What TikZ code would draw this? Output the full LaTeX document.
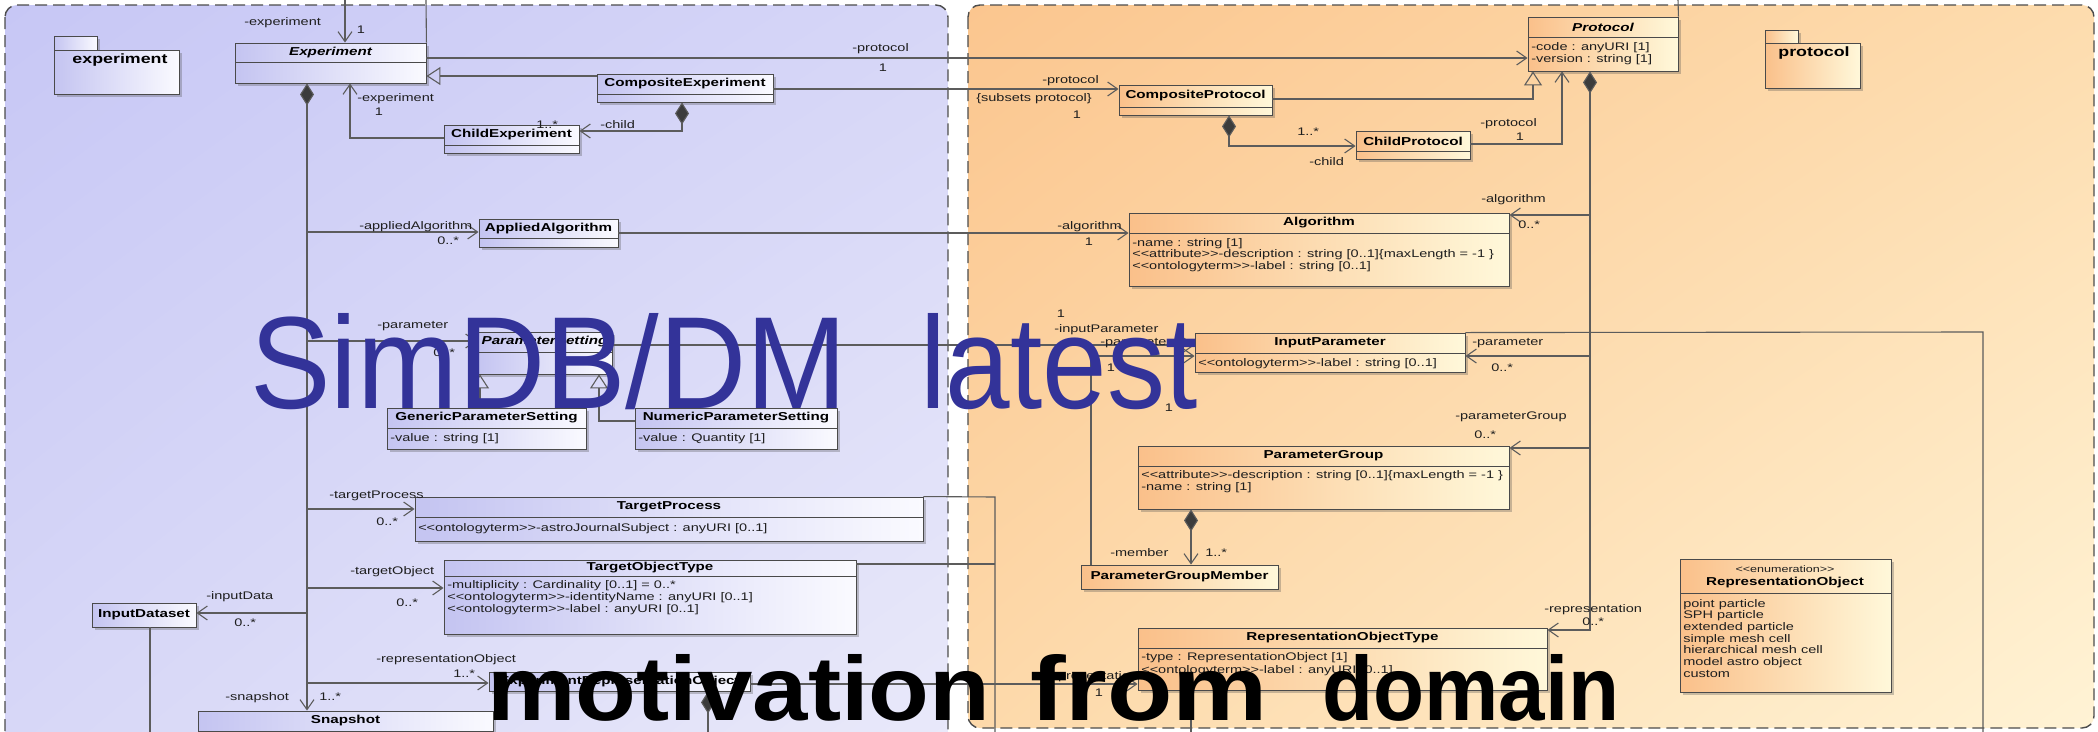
\documentclass[tikz,border=0pt]{standalone}
\usepackage{fontspec}
\usepackage{graphicx}
\setmainfont{Liberation Sans}
\newfontfamily\umlfont{Liberation Sans}
\newfontfamily\bigfont{Liberation Sans}
\usetikzlibrary{arrows.meta,shadows,shadings}

\definecolor{lavUL}{HTML}{C7C7F5}
\definecolor{lavUR}{HTML}{D6D6F7}
\definecolor{lavLL}{HTML}{D8D8F7}
\definecolor{lavLR}{HTML}{EAEAFA}
\definecolor{orUL}{HTML}{FBC68F}
\definecolor{orUR}{HTML}{FDDCAE}
\definecolor{orLL}{HTML}{FDD9AA}
\definecolor{orLR}{HTML}{FFF3D5}
\definecolor{lavbox}{HTML}{C4C4F1}
\definecolor{lavboxR}{HTML}{FAFAFF}
\definecolor{orbox}{HTML}{FAC08A}
\definecolor{orboxR}{HTML}{FFF8DA}
\definecolor{lineg}{HTML}{5C5C5C}
\definecolor{edgeg}{HTML}{4A4A4A}
\definecolor{diag}{HTML}{3C3C3C}
\definecolor{titleblue}{HTML}{333399}
\definecolor{txt}{HTML}{1E1E1E}

\tikzset{
  lab/.style={font=\umlfont\fontsize{11}{12}\selectfont, text=txt, xscale=1.32, inner sep=0pt},
  cname/.style={font=\umlfont\bfseries\fontsize{11.5}{12}\selectfont, text=black, xscale=1.32, inner sep=0pt},
  cnamei/.style={font=\umlfont\bfseries\itshape\fontsize{11.5}{12}\selectfont, text=black, xscale=1.32, inner sep=0pt},
  stereo/.style={font=\umlfont\fontsize{9.5}{11}\selectfont, text=txt, xscale=1.32, inner sep=0pt},
  pkgname/.style={font=\umlfont\bfseries\fontsize{13.5}{14}\selectfont, text=black, xscale=1.32, inner sep=0pt},
  clsbox/.style={rectangle, draw=edgeg, line width=0.9pt, inner sep=0pt,
    drop shadow={shadow xshift=3pt, shadow yshift=-3pt, opacity=0.3, fill=black!70}},
  lavcls/.style={clsbox, left color=lavbox, right color=lavboxR},
  orcls/.style={clsbox, left color=orbox, right color=orboxR},
  divline/.style={draw=edgeg, line width=0.9pt},
  panelborder/.style={draw=black!70, line width=1.4pt, dash pattern=on 12pt off 6pt, rounded corners=12pt},
  conn/.style={draw=lineg, line width=1.1pt},
  navi/.style={conn, -{Straight Barb[length=10pt,width=14pt]}},
  gen/.style={conn, -{Triangle[open,length=14pt,width=18pt]}},
  compo/.style={conn, {Diamond[length=22pt,width=14pt,fill=diag]}-{Straight Barb[length=10pt,width=14pt]}},
  compd/.style={conn, {Diamond[length=22pt,width=14pt,fill=diag]}-},
}

% class box: name, style, x1, y1, x2, y2, divider y, title style, title
\newcommand\umlcls[9]{%
  \node[#2, minimum width={#5-#3}, minimum height={#6-#4}] (#1) at ({(#3+#5)/2},{(#4+#6)/2}) {};
  \draw[divline] (#3,#7) -- (#5,#7);
  \node[#8] (#1-t) at ({(#3+#5)/2},{(#4+#7)/2}) {#9};
}
% one attribute line: name, x, baseline y, text
\newcommand\umlattr[4]{\node[lab, anchor=base west] (#1) at (#2,#3) {#4};}

\begin{document}
\begin{tikzpicture}[x=1pt,y=-1pt]
\useasboundingbox (0,0) rectangle (2098,731);
\clip (0,0) rectangle (2098,731);
\fill[white] (0,0) rectangle (2098,731);

% package panels
\shade[rounded corners=12pt, upper left=lavUL, upper right=lavUR, lower left=lavLL, lower right=lavLR]
  (5,5) rectangle (948,780);
\draw[panelborder] (5,5) rectangle (948,780);
\shade[rounded corners=12pt, upper left=orUL, upper right=orUR, lower left=orLL, lower right=orLR]
  (968,5) rectangle (2094,728);
\draw[panelborder] (968,5) rectangle (2094,728);

% package icons
\node[lavcls, minimum width=43, minimum height=14] (expkgtab) at (75.5,43) {};
\node[lavcls, minimum width=125, minimum height=44] (expkg) at (116.5,72) {};
\node[pkgname] (expkg-t) at (120,60) {experiment};
\node[orcls, minimum width=33, minimum height=13] (prpkgtab) at (1781.5,36.5) {};
\node[orcls, minimum width=95, minimum height=45] (prpkg) at (1812.5,65.5) {};
\node[pkgname] (prpkg-t) at (1814,53) {protocol};

% experiment classes
\umlcls{exp}{lavcls}{235}{43}{426}{83}{62}{cnamei}{Experiment}
\umlcls{cexp}{lavcls}{597}{74}{773}{102}{94}{cname}{CompositeExperiment}
\umlcls{chexp}{lavcls}{444}{125}{579}{153}{145}{cname}{ChildExperiment}
\umlcls{aalg}{lavcls}{479}{219}{618}{247}{238}{cname}{AppliedAlgorithm}
\umlcls{pset}{lavcls}{477}{332}{612}{374}{352}{cnamei}{ParameterSetting}
\umlcls{gps}{lavcls}{387}{408}{586}{449}{428}{cname}{GenericParameterSetting}
\umlattr{gps-a}{390}{441}{-value : string [1]}
\umlcls{nps}{lavcls}{635}{408}{837}{449}{428}{cname}{NumericParameterSetting}
\umlattr{nps-a}{638}{441}{-value : Quantity [1]}
\umlcls{tproc}{lavcls}{415}{497}{923}{541}{517}{cname}{TargetProcess}
\umlattr{tproc-a}{418}{531}{<<ontologyterm>>-astroJournalSubject : anyURI [0..1]}
\umlcls{tobj}{lavcls}{444}{560}{856}{634}{576}{cname}{TargetObjectType}
\umlattr{tobj-a1}{447}{588}{-multiplicity : Cardinality [0..1] = 0..*}
\umlattr{tobj-a2}{447}{600}{<<ontologyterm>>-identityName : anyURI [0..1]}
\umlattr{tobj-a3}{447}{612}{<<ontologyterm>>-label : anyURI [0..1]}
\umlcls{inds}{lavcls}{92}{603}{196}{627}{627}{cname}{InputDataset}
\umlcls{erep}{lavcls}{489}{672}{750}{691}{691}{cname}{ExperimentRepresentationObject}
\umlcls{snap}{lavcls}{198}{711}{493}{770}{731}{cname}{Snapshot}

% protocol classes
\umlcls{prot}{orcls}{1528}{17}{1678}{71}{37}{cnamei}{Protocol}
\umlattr{prot-a1}{1531}{50}{-code : anyURI [1]}
\umlattr{prot-a2}{1531}{62}{-version : string [1]}
\umlcls{cprot}{orcls}{1119}{85}{1272}{115}{107}{cname}{CompositeProtocol}
\umlcls{chprot}{orcls}{1356}{131}{1470}{159}{151}{cname}{ChildProtocol}
\umlcls{alg}{orcls}{1129}{213}{1509}{286}{233}{cname}{Algorithm}
\umlattr{alg-a1}{1132}{246}{-name : string [1]}
\umlattr{alg-a2}{1132}{257.5}{<<attribute>>-description : string [0..1]\{maxLength = -1 \}}
\umlattr{alg-a3}{1132}{269}{<<ontologyterm>>-label : string [0..1]}
\umlcls{ip}{orcls}{1195}{333}{1465}{372}{353}{cname}{InputParameter}
\umlattr{ip-a}{1198}{366}{<<ontologyterm>>-label : string [0..1]}
\umlcls{pg}{orcls}{1138}{446}{1509}{509}{466}{cname}{ParameterGroup}
\umlattr{pg-a1}{1141}{478}{<<attribute>>-description : string [0..1]\{maxLength = -1 \}}
\umlattr{pg-a2}{1141}{490.5}{-name : string [1]}
\umlcls{pgm}{orcls}{1081}{565}{1278}{589}{589}{cname}{ParameterGroupMember}
\umlcls{rot}{orcls}{1138}{628}{1547}{690}{648}{cname}{RepresentationObjectType}
\umlattr{rot-a1}{1141}{660}{-type : RepresentationObject [1]}
\umlattr{rot-a2}{1141}{673}{<<ontologyterm>>-label : anyURI [0..1]}
\umlcls{robj}{orcls}{1680}{559}{1891}{692}{593}{cname}{}
\node[stereo] (robj-s) at (1785,569) {<<enumeration>>};
\node[cname] (robj-n) at (1785,583) {RepresentationObject};
\umlattr{robj-l1}{1683}{607}{point particle}
\umlattr{robj-l2}{1683}{618.7}{SPH particle}
\umlattr{robj-l3}{1683}{630.4}{extended particle}
\umlattr{robj-l4}{1683}{642}{simple mesh cell}
\umlattr{robj-l5}{1683}{653.8}{hierarchical mesh cell}
\umlattr{robj-l6}{1683}{665.5}{model astro object}
\umlattr{robj-l7}{1683}{677}{custom}

% ---- connectors: experiment package
\coordinate (topA) at (345,0);
\coordinate (topB) at (426,0);
\draw[navi] (topA) -- (topA |- exp.north);
\draw[conn] (exp.north east) -- (topB);
\coordinate (jEP) at (0,58);
\draw[navi] (exp.east |- jEP) -- (prot.west |- jEP);
\coordinate (jGE) at (0,76);
\draw[gen] (cexp.west |- jGE) -- (exp.east |- jGE);
\coordinate (jCC) at (0,89);
\draw[navi] (cexp.east |- jCC) -- (cprot.west |- jCC);
\coordinate (dCE) at (682,131);
\draw[compo] (cexp.south -| dCE) -- (dCE) -- (chexp.east |- dCE);
\coordinate (kCE) at (350,138);
\draw[navi] (chexp.west |- kCE) -- (kCE) -- (kCE |- exp.south);

\coordinate (tr) at (307,0);
\draw[compo] (exp.south -| tr) -- (tr |- snap.north);
\coordinate (b1) at (307,232); \draw[navi] (b1) -- (b1 -| aalg.west);
\coordinate (b2) at (307,341); \draw[navi] (b2) -- (b2 -| pset.west);
\coordinate (b3) at (307,509); \draw[navi] (b3) -- (b3 -| tproc.west);
\coordinate (b4) at (307,588); \draw[navi] (b4) -- (b4 -| tobj.west);
\coordinate (b5) at (307,613); \draw[navi] (b5) -- (b5 -| inds.east);
\coordinate (b6) at (307,683); \draw[navi] (b6) -- (b6 -| erep.west);

\draw[navi] (aalg.east) -- (aalg.east -| alg.west);
\coordinate (gG) at (480,0);
\draw[gen] (gps.north -| gG) -- (pset.south -| gG);
\coordinate (nB) at (599,421);
\draw[gen] (nps.west |- nB) -- (nB) -- (nB |- pset.south);
\coordinate (jPI) at (0,345);
\draw[navi] (pset.east |- jPI) -- (ip.west |- jPI);
\coordinate (kPG) at (1091,356);
\draw[navi] (pgm.north -| kPG) -- (kPG) -- (kPG -| ip.west);

\coordinate (vv) at (995,497);
\coordinate (vvb) at (995,740);
\draw[conn] (tproc.north east) -- (vv) -- (vvb);
\coordinate (vo) at (995,564);
\draw[conn] (tobj.east |- vo) -- (vo);
\coordinate (jER) at (0,684);
\draw[navi] (erep.east |- jER) -- (rot.west |- jER);
\coordinate (eb) at (708,740);
\draw[compd] (erep.south -| eb) -- (eb);
\coordinate (idb) at (150,740);
\draw[conn] (inds.south -| idb) -- (idb);

% ---- connectors: protocol package
\coordinate (pt) at (1590,630);
\draw[compo] (prot.south -| pt) -- (pt) -- (pt -| rot.east);
\coordinate (c1) at (1590,215); \draw[navi] (c1) -- (c1 -| alg.east);
\coordinate (c2) at (1590,356); \draw[navi] (c2) -- (c2 -| ip.east);
\coordinate (c3) at (1590,448); \draw[navi] (c3) -- (c3 -| pg.east);
\coordinate (gP) at (1533,99);
\draw[gen] (cprot.east |- gP) -- (gP) -- (gP |- prot.south);
\coordinate (kCP) at (1562,144);
\draw[navi] (chprot.east |- kCP) -- (kCP) -- (kCP |- prot.south);
\coordinate (dCP) at (1229,146);
\draw[compo] (cprot.south -| dCP) -- (dCP) -- (dCP -| chprot.west);
\coordinate (topC) at (1678,0);
\draw[conn] (prot.north east) -- (topC);
\coordinate (mG) at (1191,0);
\draw[compo] (pg.south -| mG) -- (pgm.north -| mG);
\coordinate (rr) at (1983,332);
\coordinate (rrb) at (1983,740);
\draw[conn] (ip.north east) -- (rr) -- (rrb);
\coordinate (rtb) at (1191,740);
\draw[conn] (rot.south -| rtb) -- (rtb);

% ---- role names and multiplicities
\node[lab, anchor=west] (lb1) at (244,23) {-experiment};
\node[lab] (lb2) at (361,30) {1};
\node[lab, anchor=west] (lb3) at (852,49) {-protocol};
\node[lab] (lb4) at (883,68) {1};
\node[lab, anchor=west] (lb5) at (1042,81) {-protocol};
\node[lab, anchor=west] (lb6) at (976,99) {\{subsets protocol\}};
\node[lab] (lb7) at (1077,115) {1};
\node[lab, anchor=west] (lb8) at (600,125) {-child};
\node[lab, anchor=west] (lb9) at (536,125) {1..*};
\node[lab, anchor=west] (lb10) at (357,99) {-experiment};
\node[lab] (lb11) at (379,112) {1};
\node[lab, anchor=west] (lb12) at (225,698) {-snapshot};
\node[lab, anchor=west] (lb13) at (319,697) {1..*};
\node[lab, anchor=west] (lb14) at (359,227) {-appliedAlgorithm};
\node[lab, anchor=west] (lb15) at (437,241) {0..*};
\node[lab, anchor=west] (lb16) at (377,326) {-parameter};
\node[lab, anchor=west] (lb17) at (433,353) {0..*};
\node[lab, anchor=west] (lb18) at (329,496) {-targetProcess};
\node[lab, anchor=west] (lb19) at (376,522) {0..*};
\node[lab, anchor=west] (lb20) at (350,572) {-targetObject};
\node[lab, anchor=west] (lb21) at (396,603) {0..*};
\node[lab, anchor=west] (lb22) at (206,597) {-inputData};
\node[lab, anchor=west] (lb23) at (234,623) {0..*};
\node[lab, anchor=west] (lb24) at (376,660) {-representationObject};
\node[lab, anchor=west] (lb25) at (453,674) {1..*};
\node[lab, anchor=west] (lb26) at (1100,343) {-parameter};
\node[lab] (lb27) at (1111,368) {1};
\node[lab] (lb28) at (1061,314) {1};
\node[lab, anchor=west] (lb29) at (1054,330) {-inputParameter};
\node[lab] (lb30) at (1169,408) {1};
\node[lab, anchor=west] (lb31) at (1481,200) {-algorithm};
\node[lab, anchor=west] (lb32) at (1518,225) {0..*};
\node[lab, anchor=west] (lb33) at (1472,343) {-parameter};
\node[lab, anchor=west] (lb34) at (1491,368) {0..*};
\node[lab, anchor=west] (lb35) at (1455,417) {-parameterGroup};
\node[lab, anchor=west] (lb36) at (1474,435) {0..*};
\node[lab, anchor=west] (lb37) at (1544,610) {-representation};
\node[lab, anchor=west] (lb38) at (1582,622) {0..*};
\node[lab, anchor=west] (lb39) at (1480,124) {-protocol};
\node[lab] (lb40) at (1520,137) {1};
\node[lab, anchor=west] (lb41) at (1297,132) {1..*};
\node[lab, anchor=west] (lb42) at (1309,162) {-child};
\node[lab, anchor=west] (lb43) at (1057,227) {-algorithm};
\node[lab] (lb44) at (1089,242) {1};
\node[lab, anchor=west] (lb45) at (1110,553) {-member};
\node[lab, anchor=west] (lb46) at (1205,553) {1..*};
\node[lab, anchor=west] (lb47) at (1040,677) {-representation};
\node[lab] (lb48) at (1099,693) {1};

% ---- slide headings over the diagram
\node[anchor=base west, text=titleblue, inner sep=0pt] (ttl1) at (250,408)
  {\resizebox{597pt}{95pt}{\bigfont SimDB/DM}};
\node[anchor=base west, text=titleblue, inner sep=0pt] (ttl2) at (920,408)
  {\resizebox{277pt}{95pt}{\bigfont latest}};
\node[anchor=base west, text=black, inner sep=0pt] (mot1) at (487,720)
  {\resizebox{503pt}{66pt}{\bigfont\bfseries motivation}};
\node[anchor=base west, text=black, inner sep=0pt] (mot2) at (1030,720)
  {\resizebox{238pt}{66pt}{\bigfont\bfseries from}};
\node[anchor=base west, text=black, inner sep=0pt] (mot3) at (1322,720)
  {\resizebox{297pt}{66pt}{\bigfont\bfseries domain}};
\end{tikzpicture}
\end{document}
